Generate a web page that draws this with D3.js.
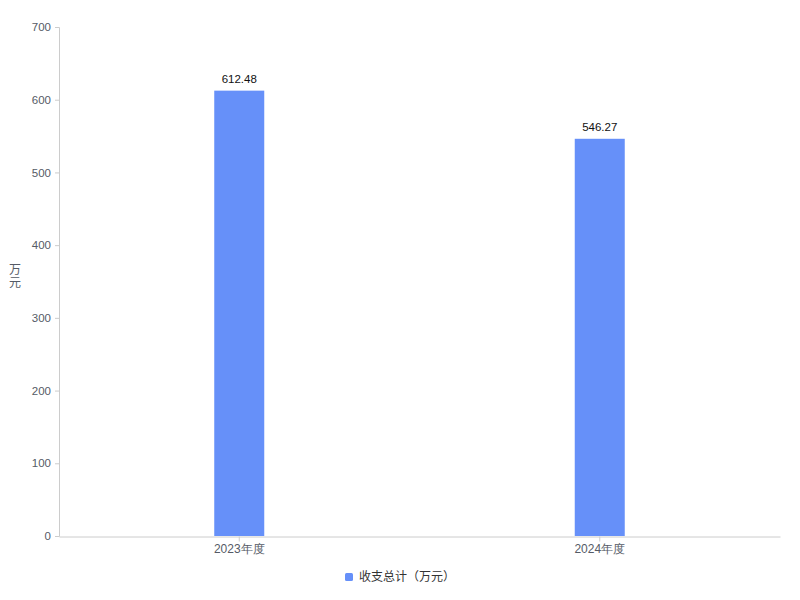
<!DOCTYPE html>
<html><head><meta charset="utf-8">
<script src="https://cdn.jsdelivr.net/npm/d3@7"></script>
<style>body{margin:0;background:#fff;font-family:"Liberation Sans",Arial,"Noto Sans CJK SC",sans-serif;}</style>
</head><body><svg id="c" width="800" height="600"></svg>
<script>
const categories = ["2023年度", "2024年度"];
const values = [612.48, 546.27];
const yTicks = [0, 100, 200, 300, 400, 500, 600, 700];
const seriesName = "收支总计（万元）";
const unitLabel = ["万", "元"];

const svg = d3.select("#c");
const m = {l: 59, r: 20, t: 27, b: 64};
const W = 800, H = 600;
const x = d3.scaleBand().domain(categories).range([m.l, W - m.r]);
const y = d3.scaleLinear().domain([0, 700]).range([H - m.b, m.t]);
const color = "#6690f9";
const axisColor = "#cccccc";
const textColor = "#555b66";

// y axis
const ya = svg.append("g").attr("transform", `translate(${m.l},0)`)
  .call(d3.axisLeft(y).tickValues(yTicks).tickSize(4).tickPadding(4));
ya.select(".domain").attr("stroke", axisColor);
ya.selectAll(".tick line").attr("stroke", axisColor);
ya.selectAll(".tick text").attr("fill", textColor).attr("font-size", 11.5);

// x axis
const xa = svg.append("g").attr("transform", `translate(0,${H - m.b + 0.5})`)
  .call(d3.axisBottom(x).tickSize(5).tickSizeOuter(0).tickPadding(3));
xa.select(".domain").attr("stroke", axisColor);
xa.selectAll(".tick line").attr("stroke", axisColor);
xa.selectAll(".tick text").attr("fill", textColor).attr("font-size", 12);

// bars
const bw = 50;
svg.append("g").selectAll("rect").data(values).enter().append("rect")
  .attr("x", (d, i) => x(categories[i]) + x.bandwidth() / 2 - bw / 2)
  .attr("y", d => y(d))
  .attr("width", bw)
  .attr("height", d => y(0) - y(d))
  .attr("fill", color);

// value labels
svg.append("g").selectAll("text").data(values).enter().append("text")
  .attr("x", (d, i) => x(categories[i]) + x.bandwidth() / 2)
  .attr("y", d => y(d) - 8)
  .attr("text-anchor", "middle")
  .attr("font-size", 11.5)
  .attr("fill", "#111")
  .text(d => d.toFixed(2));

// unit label
svg.append("g").selectAll("text").data(unitLabel).enter().append("text")
  .attr("x", 15).attr("y", (d, i) => 274 + i * 13)
  .attr("text-anchor", "middle")
  .attr("font-size", 12).attr("fill", textColor)
  .text(d => d);

// legend
const lg = svg.append("g").attr("transform", "translate(349,577)");
lg.append("rect").attr("x", -4).attr("y", -4).attr("width", 8).attr("height", 8).attr("rx", 1.5).attr("fill", color);
lg.append("text").attr("x", 10).attr("y", 4).attr("font-size", 12).attr("fill", "#333").text(seriesName);
</script></body></html>
